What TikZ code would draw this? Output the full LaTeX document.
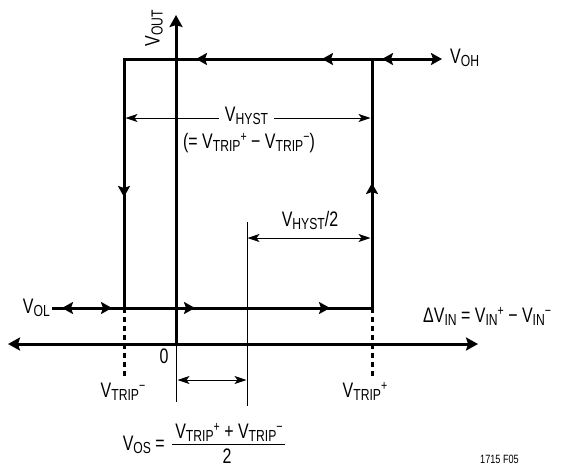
\documentclass[tikz,border=0pt]{standalone}
\usepackage{fontspec}
\setmainfont{Liberation Sans}[FakeStretch=0.76]
\usetikzlibrary{arrows.meta}
\newcommand{\subf}{\fontsize{16}{16}\selectfont}
\newcommand{\supf}{\fontsize{14}{14}\selectfont}
\newcommand{\Vs}[1]{V\raisebox{-3pt}{\subf #1}}
\newcommand{\Sp}[1]{\raisebox{7pt}{\supf #1}}
\begin{document}
\begin{tikzpicture}[x=1pt,y=-1pt,
  font=\fontsize{21}{21}\selectfont,
  thickline/.style={line width=3pt},
  thinline/.style={line width=1pt},
  bigtip/.tip={Stealth[length=12pt,width=13pt,inset=2pt]},
  midtip/.tip={Stealth[length=11pt,width=12pt,inset=2pt]},
  smalltip/.tip={Stealth[length=12pt,width=8pt,inset=3pt]},
  thinarrow/.style={line width=1pt,-smalltip},
  thinarrows/.style={line width=1pt,smalltip-smalltip},
  dotline/.style={line width=3pt,dash pattern=on 5pt off 4pt},
  lbl/.style={inner sep=0pt}]
\useasboundingbox (0,0) rectangle (561,466);
% coordinates
\coordinate (TL) at (124,59);
\coordinate (TR) at (372,59);
\coordinate (BL) at (124,308);
\coordinate (BR) at (372,308);
\coordinate (OHend) at (442,59);
\coordinate (OLstart) at (52,308);
\coordinate (O) at (176,344);
\coordinate (Xl) at (8,344);
\coordinate (Xr) at (478,344);
\coordinate (Yt) at (176,15);
% axes
\draw[thickline,bigtip-bigtip] (Xl) -- (Xr);
\draw[thickline,-bigtip] (O) -- (Yt);
% loop
\draw[thickline,-midtip] (BL) -- (TL) -- (OHend);
\draw[thickline] (OLstart) -- (BR) -- (TR);
% mid arrows
\draw[thickline,-midtip] (207,59) -- (196,59);
\draw[thickline,-midtip] (333,59) -- (322,59);
\draw[thickline,-midtip] (393,59) -- (382,59);
\draw[thickline,-midtip] (124,186) -- (124,197);
\draw[thickline,-midtip] (372,194) -- (372,183);
\draw[thickline,-midtip] (73,308) -- (62,308);
\draw[thickline,-midtip] (101,308) -- (112,308);
\draw[thickline,-midtip] (184,308) -- (195,308);
\draw[thickline,-midtip] (319,308) -- (330,308);
% dotted trip lines
\coordinate (Dm) at (124,378);
\coordinate (Dp) at (372,378);
\draw[dotline] (BL) -- (Dm);
\draw[dotline] (BR) -- (Dp);
% thin verticals
\coordinate (Ob) at (176,402);
\coordinate (Mt) at (247,222);
\coordinate (Mb) at (247,406);
\draw[thinline] (O) -- (Ob);
\draw[thinline] (Mt) -- (Mb);
% labels
\node[lbl,rotate=90,anchor=center] (vout) at (154,28) {\Vs{OUT}};
\node[lbl,anchor=base west] (voh) at (450,63) {\Vs{OH}};
\node[lbl,anchor=base east] (vol) at (50,313) {\Vs{OL}};
\node[lbl,inner xsep=6pt,anchor=base] (vhyst) at (246.5,121) {\Vs{HYST}};
\node[lbl,anchor=base] (vhyst2) at (249,148) {(= \Vs{TRIP}\Sp{+} − \Vs{TRIP}\Sp{−})};
\node[lbl,anchor=base] (vhalf) at (310,226) {\Vs{HYST}/2};
\node[lbl,anchor=center] (zero) at (164,356) {0};
\node[lbl,anchor=base] (vtm) at (123,397) {\Vs{TRIP}\Sp{−}};
\node[lbl,anchor=base] (vtp) at (365,397) {\Vs{TRIP}\Sp{+}};
\node[lbl,anchor=base west] (dvin) at (423,322) {ΔV\raisebox{-3pt}{\subf IN} = \Vs{IN}\Sp{+} − \Vs{IN}\Sp{−}};
\node[lbl,anchor=base east] (vos) at (165,450) {\Vs{OS} =};
\node[lbl,anchor=base] (num) at (229,438) {\Vs{TRIP}\Sp{+} + \Vs{TRIP}\Sp{−}};
\node[lbl,anchor=base] (den) at (227,463) {2};
\node[lbl,anchor=base west,font=\fontsize{12}{12}\selectfont] (fig) at (480,463) {1715 F05};
\coordinate (FbL) at (172,444);
\coordinate (FbR) at (285,444);
\draw[thinline] (FbL) -- (FbR);
% dimension arrows
\coordinate (HYl) at (125.5,118);
\coordinate (HYr) at (370.5,118);
\draw[thinarrow] (vhyst.west |- HYl) -- (HYl);
\draw[thinarrow] (vhyst.east |- HYr) -- (HYr);
\coordinate (Hl) at (247.5,238);
\coordinate (Hr) at (370.5,238);
\draw[thinarrows] (Hl) -- (Hr);
\coordinate (Sl) at (177.5,380);
\coordinate (Sr) at (246.5,380);
\draw[thinarrows] (Sl) -- (Sr);
\end{tikzpicture}
\end{document}
